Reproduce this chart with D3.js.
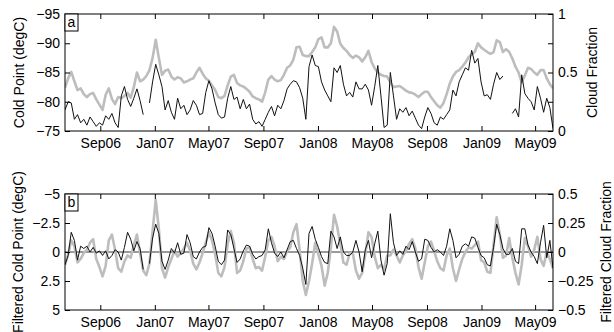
<!DOCTYPE html>
<html><head><meta charset="utf-8">
<script src="https://cdn.jsdelivr.net/npm/d3@7"></script>
<style>
body{margin:0;background:#fff;}
svg{display:block;}
text{font-family:"Liberation Sans",Arial,Helvetica,sans-serif;fill:#000;}
</style></head>
<body>
<svg id="c" width="614" height="332"></svg>
<script>
// ---- data (weekly samples) ----
const startDate = "2006-06-14";
const stepDays = 7;
const tickLabels = ["Sep06","Jan07","May07","Sep07","Jan08","May08","Sep08","Jan09","May09"];
const tickDates = ["2006-09-01","2007-01-01","2007-05-01","2007-09-01","2008-01-01","2008-05-01","2008-09-01","2009-01-01","2009-05-01"];

// panel a: cold point temperature (degC, left axis, grey)
const coldPoint = [-82.4,-84,-85.1,-83.5,-82,-82.3,-81.3,-80.8,-81.3,-81.5,-80.4,-79.5,-78.6,-81.2,-82.3,-80.5,-79.6,-80.8,-80.6,-81,
-81.5,-80.7,-82.5,-85,-83.5,-83.8,-84.4,-85.4,-87.5,-90.6,-87.5,-84.6,-85.3,-85.5,-84.3,-83.8,-84.2,-84,-83.3,-83.5,
-83.8,-84,-85,-85.8,-84.8,-84,-83.6,-82.8,-82,-80.8,-80.6,-81,-82.8,-84.3,-84.6,-83.2,-82.8,-82.6,-82.2,-81.7,
-80.9,-80.6,-80.4,-80,-81.6,-83.8,-84.4,-83.8,-83.5,-83.7,-84.6,-85.8,-86.2,-87.2,-89.3,-89.4,-88,-87.8,-87.8,-88.5,
-89.3,-90.7,-91,-89.3,-89.3,-90,-92.8,-92,-89.9,-89.2,-88.7,-88,-87.5,-87.9,-87.6,-86.9,-87.6,-88.7,-86.8,-85.7,
-85,-84.6,-84.4,-84.3,-83.3,-82.5,-82.6,-82.7,-82.3,-81.9,-81.6,-81.5,-81.2,-80.8,-81.3,-81.7,-81.7,-80.8,-80.1,-79.4,
-79,-79.8,-81.3,-83.1,-84.3,-85.1,-85.4,-86,-86.7,-87.6,-88.1,-88.5,-90,-89.3,-88.9,-88.5,-88.2,-88.5,-90.5,-90.2,
-88.5,-89,-88.5,-87.4,-86,-85,-83.3,-84.5,-85.8,-85.6,-85,-84.6,-85.4,-85.4,-84,-83,-82.3];

// panel a: cloud fraction (right axis, black)
const cloudFraction = [0.18,0.25,0.24,0.1,0.14,0.07,0.1,0.05,0.12,0.08,0.04,0.07,0.05,0.13,0.1,0.15,0.07,0.03,0.3,0.38,
0.27,0.21,0.28,0.36,0.26,0.14,null,0.24,0.42,0.57,0.48,0.38,0.18,0.26,0.16,0.1,0.28,0.19,0.22,0.14,
0.18,0.26,0.22,0.14,0.15,0.33,0.43,0.36,0.24,0.14,0.11,0.12,0.28,0.38,0.27,0.29,0.19,0.27,0.19,0.23,
0.1,0.06,0.08,0.04,0.1,0.16,0.21,0.13,0.22,0.19,0.26,0.36,0.4,0.43,0.42,0.37,0.28,0.1,0.55,0.65,
0.56,0.55,0.42,0.35,0.3,0.25,0.54,0.5,0.56,0.4,0.3,0.33,0.29,0.42,0.36,0.36,0.4,0.35,0.22,0.38,
0.56,0.3,0.03,0.05,0.5,0.3,0.1,0.19,0.16,0.2,0.13,0.17,0.11,0.05,0.02,0.12,0.2,0.15,0.07,0.05,
0.12,0.1,0.14,0.18,0.35,0.3,0.42,0.48,0.54,0.52,0.69,0.58,0.62,0.42,0.3,0.31,0.27,0.4,0.5,0.44,
0.47,null,null,0.15,0.19,0.12,0.48,0.32,0.28,0.25,0.18,0.38,0.28,0.16,0.28,0.2,0.02];

// panel b: filtered cold point (degC, left axis, grey)
const filtColdPoint = [1.1,0.2,-1.0,-0.5,0.9,0.6,0.1,-0.2,-0.8,-1.1,0.6,1.3,2.1,1.2,-1.0,-1.5,-0.2,1.4,1.7,0.8,
0.3,0.5,-0.6,-1.5,0.1,1.6,2.0,1.0,-1.8,-4.5,-2.0,1.4,2.2,1.3,0.6,-0.1,0.4,0.1,-0.3,-0.8,
-0.1,1.0,1.5,0.9,0.1,-0.8,-1.7,-1.0,0.2,1.8,2.1,1.3,-0.7,-1.8,-0.8,1.8,1.6,0.8,-0.3,-0.4,
0.6,1.4,1.3,1.6,0.4,-1.0,-1.3,-0.5,0.8,0.4,0.6,-0.1,-0.4,-1.7,-2.4,-0.2,2.5,3.7,2.5,1.0,
-0.8,0.2,1.2,2.9,1.8,-0.4,-3.2,-2.2,-0.7,0.9,1.1,0.1,0.1,1.6,2.3,1.8,0.2,-1.7,-1.3,0.4,
1.4,1.1,1.5,0.3,0.3,-0.2,0.3,0.9,0.3,-0.1,-0.7,-1.1,-0.3,1.3,2.3,0.9,-0.5,-0.9,-0.1,0.8,
1.4,1.6,0.3,-0.3,1.4,2.5,1.5,0.6,0.0,-0.4,-0.3,-0.6,-0.9,0.7,0.9,1.7,1.8,-0.6,-3.0,-1.5,
0.5,0.3,-1.2,0.5,1.8,2.8,1.1,-1.2,-0.5,0.4,-0.2,-1.3,0.6,1.2,0.0,0.6,1.4];

// panel b: filtered cloud fraction (right axis, black)
const filtCloudFraction = [-0.11,-0.03,0.17,0.1,-0.07,0.05,0.03,0.05,0.0,0.04,-0.01,0.01,-0.03,0.01,-0.06,-0.03,0.02,0.0,-0.07,0.04,
0.17,0.11,0.01,0.09,0.03,-0.15,null,-0.1,0.12,0.24,0.16,-0.08,-0.15,-0.07,0.03,-0.01,0.08,-0.02,-0.01,0.15,
0.08,-0.04,-0.06,0.0,0.04,0.05,0.21,0.16,0.05,-0.08,-0.11,-0.07,0.19,0.15,0.03,-0.09,-0.06,0.01,0.06,0.05,
-0.02,-0.06,-0.04,-0.03,0.02,0.2,0.08,-0.01,-0.04,0.0,-0.05,0.02,0.09,0.1,0.03,-0.03,-0.14,-0.28,0.16,0.22,
0.11,0.04,-0.04,-0.09,-0.1,0.18,0.13,0.03,0.13,0.0,-0.03,-0.03,0.0,0.1,0.0,-0.17,0.02,0.1,-0.05,0.07,
0.18,-0.07,-0.2,-0.1,0.33,0.08,-0.03,0.01,-0.02,0.05,0.02,0.09,0.0,-0.08,-0.06,0.11,0.1,0.04,0.0,0.02,
0.0,-0.03,0.05,0.2,0.1,-0.05,-0.02,0.05,0.07,0.05,0.13,0.12,0.04,-0.03,-0.05,-0.11,-0.12,0.04,0.24,0.15,
0.03,-0.02,-0.02,0.03,-0.08,-0.1,0.2,0.2,0.06,0.0,-0.04,-0.1,0.08,0.23,-0.05,0.1,-0.14];

const leftTicksA = [-95,-90,-85,-80,-75];
const rightTicksA = [0,0.25,0.5,0.75,1];
const rightLabelsA = ["0","","0.5","","1"];
const leftTicksB = [-5,-2.5,0,2.5,5];
const rightTicksB = [-0.5,-0.25,0,0.25,0.5];

// ---- drawing ----
const svg = d3.select("#c");
const parse = d3.utcParse("%Y-%m-%d");
const t0 = parse(startDate);
const dateAt = i => d3.utcDay.offset(t0, i * stepDays);
const tEnd = dateAt(coldPoint.length - 1);
const L = 65, R = 553;
const x = d3.scaleUtc().domain([t0, tEnd]).range([L, R]);
const fmtNum = d => String(d).replace("-", "\u2212");

const panels = [
  {top:14, bot:131, lDom:[-75,-95], rDom:[0,1], grey:coldPoint, black:cloudFraction,
   lTicks:leftTicksA, rTicks:rightTicksA, rFmt:(d,i)=>rightLabelsA[i], tag:"a",
   lTitle:"Cold Point (degC)", rTitle:"Cloud Fraction", lTx:19, rTx:592, zero:false},
  {top:194, bot:310, lDom:[5,-5], rDom:[-0.5,0.5], grey:filtColdPoint, black:filtCloudFraction,
   lTicks:leftTicksB, rTicks:rightTicksB, rFmt:fmtNum, tag:"b",
   lTitle:"Filtered Cold Point (degC)", rTitle:"Filtered Cloud Fraction", lTx:18, rTx:606, zero:true}
];

const fs = 14;
panels.forEach((p, k) => {
  const yl = d3.scaleLinear().domain(p.lDom).range([p.bot, p.top]);
  const yr = d3.scaleLinear().domain(p.rDom).range([p.bot, p.top]);
  const g = svg.append("g");
  const cid = "clip" + k;
  svg.append("clipPath").attr("id", cid).append("rect")
    .attr("x", L).attr("y", p.top).attr("width", R - L).attr("height", p.bot - p.top);

  const plot = g.append("g").attr("clip-path", `url(#${cid})`);
  if (p.zero) {
    plot.append("line").attr("x1", L).attr("x2", R).attr("y1", yl(0)).attr("y2", yl(0))
      .attr("stroke", "#000").attr("stroke-width", 0.8);
  }
  const lineL = d3.line().defined(d => d != null).x((d, i) => x(dateAt(i))).y(d => yl(d));
  const lineR = d3.line().defined(d => d != null).x((d, i) => x(dateAt(i))).y(d => yr(d));
  plot.append("path").attr("d", lineL(p.grey)).attr("fill", "none")
    .attr("stroke", "#bdbdbd").attr("stroke-width", 2.6).attr("stroke-linejoin", "round");
  plot.append("path").attr("d", lineR(p.black)).attr("fill", "none")
    .attr("stroke", "#111").attr("stroke-width", 1).attr("stroke-linejoin", "round");

  const xDates = tickDates.map(parse);
  const xb = d3.axisBottom(x).tickValues(xDates).tickFormat((d, i) => tickLabels[i])
    .tickSizeInner(-5).tickSizeOuter(0).tickPadding(7);
  const xt = d3.axisTop(x).tickValues(xDates).tickFormat("").tickSizeInner(-5).tickSizeOuter(0);
  const al = d3.axisLeft(yl).tickValues(p.lTicks).tickFormat(fmtNum).tickSizeInner(-5).tickSizeOuter(0).tickPadding(5);
  const ar = d3.axisRight(yr).tickValues(p.rTicks).tickFormat(p.rFmt).tickSizeInner(-5).tickSizeOuter(0).tickPadding(5);

  const styleAx = s => {
    s.select(".domain").remove();
    s.selectAll("line").attr("stroke", "#000").attr("stroke-width", 1);
    s.selectAll("text").style("font-size", fs + "px").style("font-family", '"Liberation Sans",Arial,sans-serif').attr("fill", "#000");
  };
  g.append("g").attr("transform", `translate(0,${p.bot})`).call(xb).call(styleAx);
  g.append("g").attr("transform", `translate(0,${p.top})`).call(xt).call(styleAx);
  g.append("g").attr("transform", `translate(${L},0)`).call(al).call(styleAx);
  g.append("g").attr("transform", `translate(${R},0)`).call(ar).call(styleAx);

  g.append("rect").attr("x", L).attr("y", p.top).attr("width", R - L).attr("height", p.bot - p.top)
    .attr("fill", "none").attr("stroke", "#000").attr("stroke-width", 1);

  // panel tag
  g.append("rect").attr("x", L).attr("y", p.top).attr("width", 13).attr("height", 17)
    .attr("fill", "#fff").attr("stroke", "#000").attr("stroke-width", 1);
  g.append("text").attr("x", L + 6.5).attr("y", p.top + 13).attr("text-anchor", "middle")
    .style("font-size", fs + "px").text(p.tag);

  const cy = (p.top + p.bot) / 2;
  g.append("text").attr("transform", `translate(${p.lTx},${cy}) rotate(-90)`)
    .attr("text-anchor", "middle").attr("dominant-baseline", "central")
    .style("font-size", fs + "px").text(p.lTitle);
  g.append("text").attr("transform", `translate(${p.rTx},${cy}) rotate(-90)`)
    .attr("text-anchor", "middle").attr("dominant-baseline", "central")
    .style("font-size", fs + "px").text(p.rTitle);
});
</script>
</body></html>
